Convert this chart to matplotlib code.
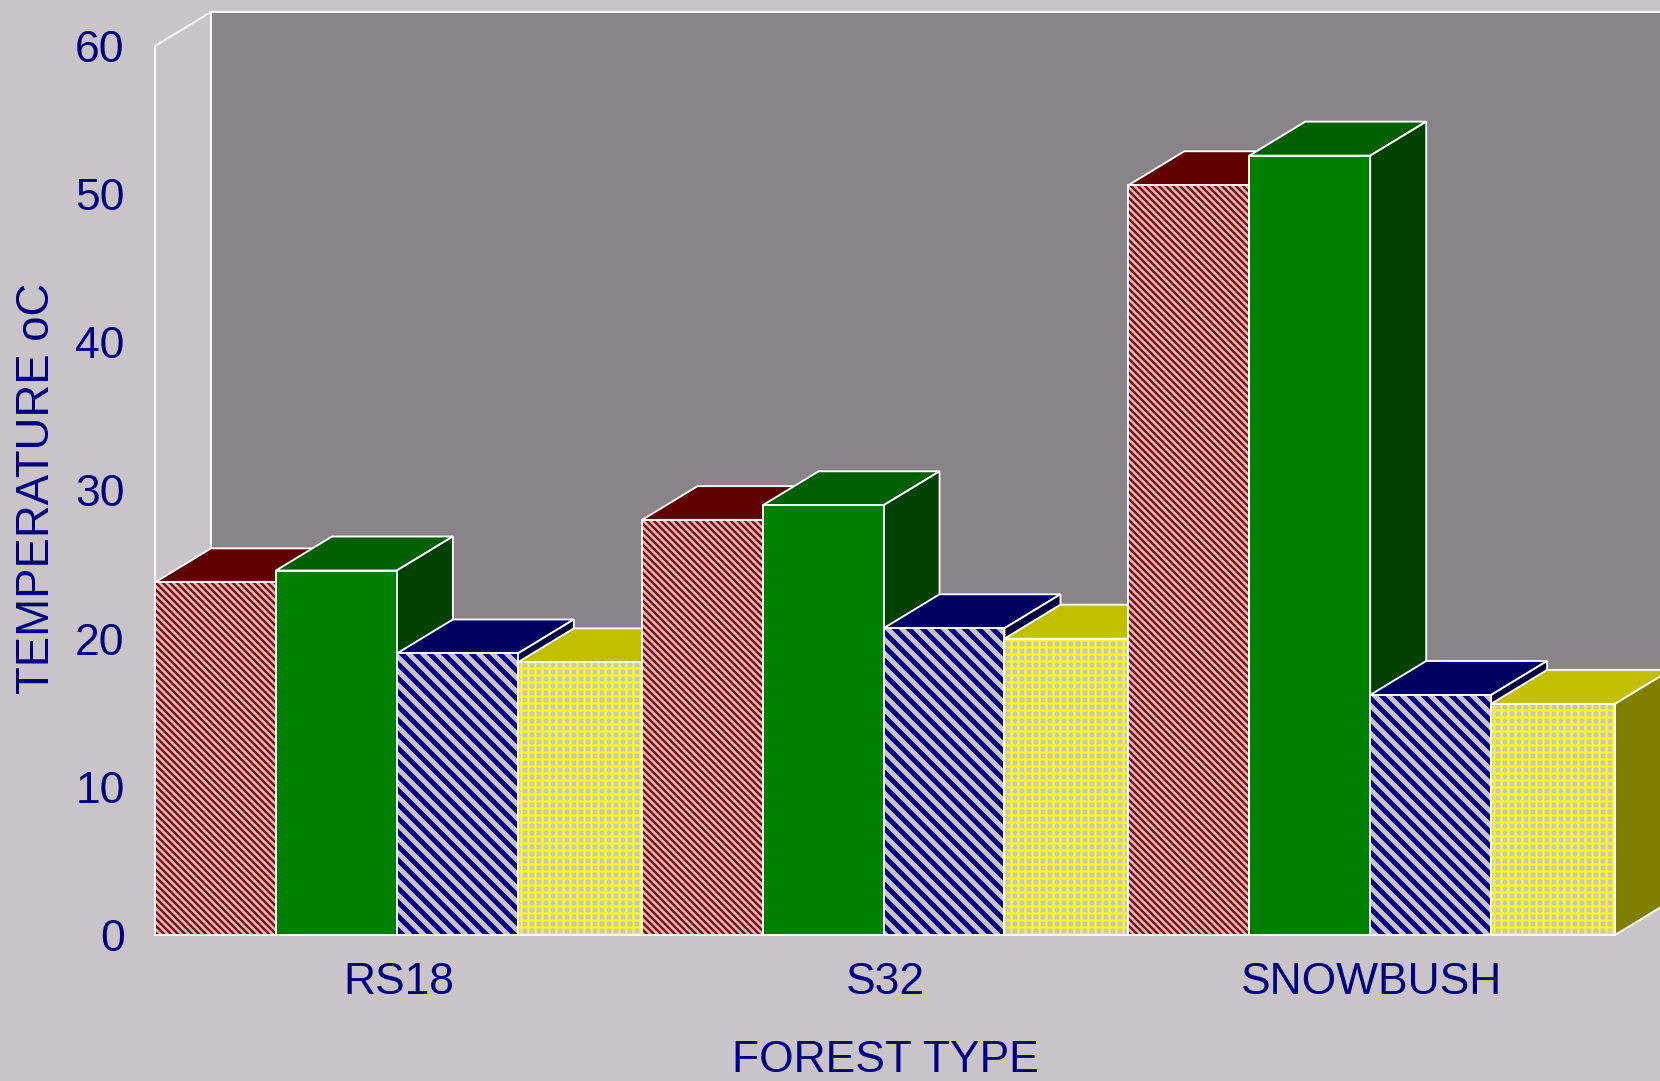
import matplotlib
matplotlib.use("Agg")
import matplotlib.pyplot as plt
from matplotlib.patches import Polygon

categories = ["RS18", "S32", "SNOWBUSH"]
series_a = [23.8, 28.0, 50.6]
series_b = [24.6, 29.0, 52.6]
series_c = [19.0, 20.7, 16.2]
series_d = [18.4, 20.0, 15.6]
y_ticks = [0, 10, 20, 30, 40, 50, 60]

W, H, DPI = 1660, 1081, 84
BG, WALL, NAVY = "#c8c4c8", "#888488", "#000080"
plt.rcParams["font.family"] = ["Liberation Sans", "DejaVu Sans"]

fig = plt.figure(figsize=(W / DPI, H / DPI), dpi=DPI, facecolor=BG)
L, R, T, B = 155, 1615, 46, 935
ax = fig.add_axes([L / W, 1 - B / H, (R - L) / W, (B - T) / H])
ax.set_xlim(0, 3)
ax.set_ylim(0, 60)
ax.patch.set_visible(False)
for s in ax.spines.values():
    s.set_visible(False)

DX = 56 * 3 / (R - L)
DY = 34 * 60 / (B - T)
z = [1]


def poly(pts, fc, ec="white", lw=1.6):
    z[0] += 1
    ax.add_patch(Polygon(pts, closed=True, facecolor=fc, edgecolor=ec, linewidth=lw,
                         clip_on=False, zorder=z[0], joinstyle="miter"))


# walls
poly([(0, 0), (DX, DY), (DX, 60 + DY), (0, 60)], BG)
poly([(DX, DY), (3 + DX, DY), (3 + DX, 60 + DY), (DX, 60 + DY)], WALL)

styles = [
    (series_a, "#600000", "#400000", "#980000", "\\\\\\\\", 2.1),
    (series_b, "#006000", "#004000", "#008000", None, 0),
    (series_c, "#000060", "#000040", "#000080", "\\\\", 4.2),
    (series_d, "#c0c000", "#808000", "#ffff00", "++", 1.7),
]
bw = 0.2485
for g in range(len(categories)):
    for k, (vals, top, side, front, hatch, hlw) in enumerate(styles):
        x0 = g + k * bw
        x1 = g + 1 if k == len(styles) - 1 else x0 + bw
        w = x1 - x0
        v = vals[g]
        poly([(x0, v), (x0 + DX, v + DY), (x1 + DX, v + DY), (x1, v)], top)
        poly([(x1, 0), (x1 + DX, DY), (x1 + DX, v + DY), (x1, v)], side)
        z[0] += 1
        if hatch:
            plt.rcParams["hatch.linewidth"] = hlw
            bars = ax.bar(x0, v, w, align="edge", color=BG, edgecolor=front, hatch=hatch,
                          linewidth=0, zorder=z[0], clip_on=False)
            if hasattr(bars[0], "set_hatch_linewidth"):
                bars[0].set_hatch_linewidth(hlw)
        else:
            ax.bar(x0, v, w, align="edge", color=front, linewidth=0, zorder=z[0], clip_on=False)
        z[0] += 1
        ax.bar(x0, v, w, align="edge", fill=False, edgecolor="white", linewidth=1.6,
               zorder=z[0], clip_on=False)

ax.set_xticks([i + 0.5 for i in range(len(categories))])
ax.set_xticklabels(categories)
ax.set_yticks(y_ticks)
ax.tick_params(axis="both", length=0, labelsize=38, labelcolor=NAVY)
ax.tick_params(axis="x", pad=23)
ax.tick_params(axis="y", pad=26)
fig.text((L + R) / 2 / W, 1 - 1060 / H, "FOREST TYPE", color=NAVY, fontsize=38, ha="center", va="center")
fig.text(37 / W, 1 - 488 / H, "TEMPERATURE oC", color=NAVY, fontsize=39, rotation=90, ha="center", va="center")
fig.savefig("out.png", dpi=DPI, facecolor=BG)
